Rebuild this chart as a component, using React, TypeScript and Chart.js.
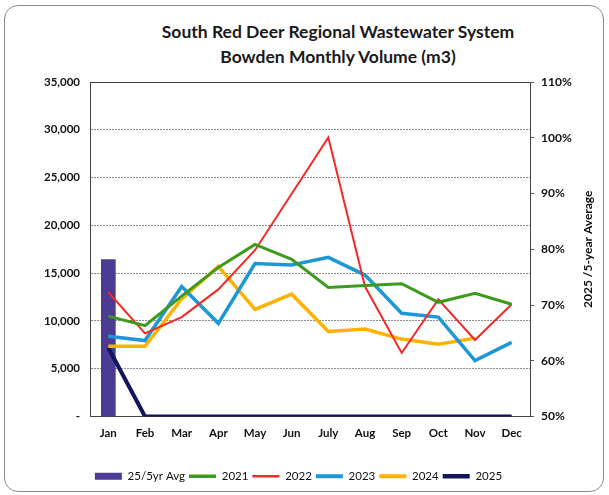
import React, { useEffect, useRef } from "react";
import { Chart, registerables } from "chart.js";

Chart.register(...registerables);

const titleLines = ["South Red Deer Regional Wastewater System", "Bowden Monthly Volume (m3)"];
const rightAxisTitle = "2025 /5-year Average";

const months = ["Jan", "Feb", "Mar", "Apr", "May", "Jun", "July", "Aug", "Sep", "Oct", "Nov", "Dec"];

// 2025 / 5-year average ratio (%), right axis
const avgRatio = [78.2, null, null, null, null, null, null, null, null, null, null, null];

// Monthly volumes (m3), left axis
const v2021 = [10500, 9500, 12600, 15600, 18000, 16450, 13500, 13700, 13900, 11950, 12900, 11750];
const v2022 = [13000, 8700, 10400, 13300, 17400, 23300, 29200, 13600, 6650, 12250, 8000, 11750];
const v2023 = [8400, 7950, 13600, 9750, 16000, 15850, 16650, 14800, 10800, 10400, 5850, 7750];
const v2024 = [7350, 7350, 12300, 15700, 11200, 12800, 8900, 9150, 8100, 7550, 8200, null];
const v2025 = [7200, 0, 0, 0, 0, 0, 0, 0, 0, 0, 0, 0];

const leftTicksMax = 35000;
const leftStep = 5000;
const rightMin = 50;
const rightMax = 110;
const rightStep = 10;

const FONT = "Lato, 'Noto Sans', sans-serif";

export default function App() {
  const canvasRef = useRef<HTMLCanvasElement | null>(null);

  useEffect(() => {
    if (!canvasRef.current) return;

    const overlayPlugin = {
      id: "overlay",
      afterDraw(chart: any) {
        const { ctx, chartArea } = chart;
        ctx.save();
        ctx.strokeStyle = "#444";
        ctx.lineWidth = 1;
        ctx.beginPath();
        ctx.moveTo(chartArea.left, chartArea.top + 0.5);
        ctx.lineTo(chartArea.right, chartArea.top + 0.5);
        ctx.stroke();
        const y1 = chart.scales.y1;
        ctx.translate(y1.right - 9, (chartArea.top + chartArea.bottom) / 2);
        ctx.rotate(-Math.PI / 2);
        ctx.font = `bold 12px ${FONT}`;
        ctx.fillStyle = "#111";
        ctx.textAlign = "center";
        ctx.textBaseline = "middle";
        ctx.fillText(rightAxisTitle, 0, 0);
        ctx.restore();
      },
    };

    const lineDs = (label: string, data: (number | null)[], color: string, width: number) => ({
      type: "line" as const,
      label,
      data,
      borderColor: color,
      backgroundColor: color,
      borderWidth: width,
      pointRadius: 0,
      pointHoverRadius: 0,
      tension: 0,
      yAxisID: "y",
      order: 0,
      spanGaps: false,
    });

    const chart = new Chart(canvasRef.current, {
      type: "bar",
      data: {
        labels: months,
        datasets: [
          {
            type: "bar",
            label: "25/5yr Avg",
            data: avgRatio,
            backgroundColor: "#4b3b92",
            borderColor: "#4b3b92",
            borderWidth: 0,
            barPercentage: 0.4,
            categoryPercentage: 1,
            yAxisID: "y1",
            order: 1,
          } as any,
          lineDs("2021", v2021, "#3d9a1c", 3),
          lineDs("2022", v2022, "#f52828", 2),
          lineDs("2023", v2023, "#1d98d6", 3.5),
          lineDs("2024", v2024, "#ffb300", 3.5),
          lineDs("2025", v2025, "#12145e", 4),
        ],
      },
      options: {
        animation: false,
        responsive: false,
        maintainAspectRatio: false,
        layout: { padding: { left: 0, right: 12, top: 82, bottom: 3 } },
        plugins: {
          title: { display: false },
          tooltip: { enabled: false },
          legend: {
            display: true,
            position: "bottom",
            labels: {
              usePointStyle: true,
              pointStyleWidth: 27,
              boxHeight: 7,
              padding: 4,
              color: "#111",
              font: { family: FONT, size: 11.5 },
              sort: (a: any, b: any) => a.datasetIndex - b.datasetIndex,
              generateLabels: (ch: any) => {
                const items = Chart.defaults.plugins.legend.labels.generateLabels(ch);
                return items.map((it: any) => {
                  const ds: any = ch.data.datasets[it.datasetIndex];
                  if (ds.type === "bar") {
                    return { ...it, pointStyle: "rect", lineWidth: 0, fillStyle: ds.backgroundColor, strokeStyle: ds.backgroundColor };
                  }
                  return { ...it, pointStyle: "line", lineWidth: ds.borderWidth + 0.5, strokeStyle: ds.borderColor, fillStyle: ds.borderColor };
                });
              },
            },
          },
        },
        scales: {
          x: {
            offset: true,
            grid: { display: false, drawTicks: false },
            border: { display: true, color: "#444", width: 1 },
            ticks: { padding: 10, color: "#111", font: { family: FONT, size: 11.5, weight: "bold" } },
            afterFit: (s: any) => {
              s.height = 50;
            },
          },
          y: {
            position: "left",
            min: 0,
            max: leftTicksMax,
            ticks: {
              stepSize: leftStep,
              padding: 10,
              color: "#111",
              font: { family: FONT, size: 11.5, weight: "bold" },
              callback: (v: any) => (Number(v) === 0 ? "-" : Number(v).toLocaleString("en-US")),
            },
            grid: { color: "#8a8a8a", lineWidth: 1, drawTicks: false },
            border: { display: true, color: "#444", width: 1, dash: [2, 1] },
            afterFit: (s: any) => {
              s.width = 90;
            },
          },
          y1: {
            position: "right",
            min: rightMin,
            max: rightMax,
            ticks: {
              stepSize: rightStep,
              padding: 7,
              color: "#111",
              font: { family: FONT, size: 12, weight: "bold" },
              callback: (v: any) => `${v}%`,
            },
            grid: { drawOnChartArea: false, drawTicks: true, tickLength: 4, tickColor: "#555" },
            border: { display: true, color: "#444", width: 1 },
            afterFit: (s: any) => {
              s.width = 67;
            },
          },
        },
      },
      plugins: [overlayPlugin],
    } as any);

    return () => chart.destroy();
  }, []);

  return (
    <div style={{ position: "fixed", left: 0, top: 0, width: 609, height: 495, background: "#fff", overflow: "hidden" }}>
      <div
        style={{
          position: "absolute",
          left: 4,
          top: 5,
          width: 600,
          height: 487,
          border: "1px solid #8c8c8c",
          borderRadius: 14,
          boxSizing: "border-box",
        }}
      />
      <div
        style={{
          position: "absolute",
          left: 0,
          width: 676,
          top: 19,
          textAlign: "center",
          fontFamily: FONT,
          fontWeight: "bold",
          fontSize: 17.5,
          lineHeight: "25px",
          color: "#1a1a1a",
        }}
      >
        {titleLines.map((t) => (
          <div key={t}>{t}</div>
        ))}
      </div>
      <canvas ref={canvasRef} width={609} height={495} style={{ position: "absolute", left: 0, top: 0 }} />
    </div>
  );
}
